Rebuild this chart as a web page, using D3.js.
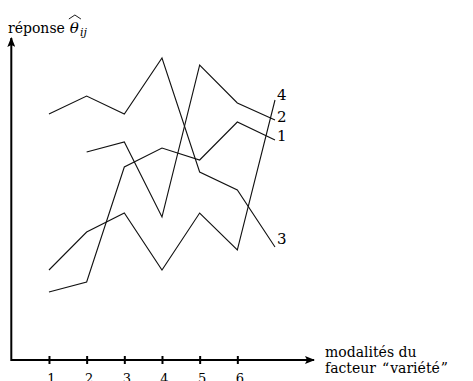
<!DOCTYPE html>
<html>
<head>
<meta charset="utf-8">
<script src="https://cdn.jsdelivr.net/npm/d3@7"></script>
<style>
  body { margin: 0; background: #fff; }
  svg { display: block; }
  text { font-family: "DejaVu Serif", "Liberation Serif", serif; fill: #000; }
</style>
</head>
<body>
<div id="chart"></div>
<script>
// modalités of the factor (x) and the tick labels that are shown
const modalities = [1, 2, 3, 4, 5, 6, 7];
const tickLabels = ['1', '2', '3', '4', '5', '6'];

// response per variety (arbitrary units)
const series1 = [6.8, 7.8, 19.3, 21.2, 20.0, 23.8, 22.0];
const series2 = [null, 20.8, 21.8, 14.3, 29.5, 25.7, 24.0];
const series3 = [24.6, 26.4, 24.6, 30.2, 18.8, 17.0, 11.3];
const series4 = [9.0, 12.8, 14.7, 9.0, 14.7, 11.0, 26.0];
const seriesNames = ['1', '2', '3', '4'];

class InteractionPlot {
    constructor(_config, _data) {
        this.config = {
            parentElement: _config.parentElement,
            containerWidth: _config.containerWidth || 473,
            containerHeight: _config.containerHeight || 381,
        };
        this.data = _data;
        this.initVis();
    }

    initVis() {
        let vis = this;

        vis.svg = d3.select(vis.config.parentElement).append('svg')
            .attr('width', vis.config.containerWidth)
            .attr('height', vis.config.containerHeight);

        // origin of the axes sits at (11, 360)
        vis.xScale = d3.scaleLinear()
            .domain([0, 7])
            .range([11.3, 275]);

        vis.yScale = d3.scaleLinear()
            .domain([0, 32])
            .range([360, 40]);

        vis.renderVis();
    }

    renderVis() {
        let vis = this;
        const x0 = vis.xScale(0), y0 = vis.yScale(0);

        // arrow heads
        const defs = vis.svg.append('defs');
        defs.append('marker')
            .attr('id', 'arrow')
            .attr('viewBox', '0 0 10 8')
            .attr('refX', 9)
            .attr('refY', 4)
            .attr('markerWidth', 10)
            .attr('markerHeight', 8)
            .attr('markerUnits', 'userSpaceOnUse')
            .attr('orient', 'auto')
            .append('path')
            .attr('d', 'M0,0 L10,4 L0,8 L2,4 Z')
            .attr('fill', '#000');

        // x axis
        vis.svg.append('line')
            .attr('x1', x0).attr('y1', y0)
            .attr('x2', 314).attr('y2', y0)
            .attr('stroke', '#000')
            .attr('stroke-width', 2)
            .attr('marker-end', 'url(#arrow)');

        // y axis
        vis.svg.append('line')
            .attr('x1', x0).attr('y1', y0 + 1)
            .attr('x2', x0).attr('y2', 38)
            .attr('stroke', '#000')
            .attr('stroke-width', 2)
            .attr('marker-end', 'url(#arrow)');

        const xAxis = d3.axisBottom(vis.xScale)
            .tickValues(tickLabels.map(Number))
            .tickFormat(d => d)
            .tickSize(4)
            .tickPadding(10);

        const axisG = vis.svg.append('g')
            .attr('transform', `translate(0, ${y0})`)
            .call(xAxis);
        axisG.select('.domain').remove();
        axisG.selectAll('.tick line')
            .attr('y1', -4)
            .attr('stroke-width', 2);
        axisG.selectAll('.tick text')
            .attr('dx', 2)
            .style('font-family', '"DejaVu Serif", serif')
            .style('font-size', '13px');

        // lines
        const line = d3.line()
            .defined(d => d.v !== null)
            .x(d => vis.xScale(d.x))
            .y(d => vis.yScale(d.v));

        const labelDy = {'1': 1, '2': 2, '3': -3, '4': 0};

        vis.data.forEach((s, i) => {
            const pts = modalities.map((m, j) => ({x: m, v: s[j]}));
            vis.svg.append('path')
                .attr('d', line(pts))
                .attr('fill', 'none')
                .attr('stroke', '#111')
                .attr('stroke-width', 1.1);

            const last = pts[pts.length - 1];
            vis.svg.append('text')
                .attr('x', vis.xScale(last.x) + 2)
                .attr('y', vis.yScale(last.v) + labelDy[seriesNames[i]])
                .style('font-size', '15px')
                .text(seriesNames[i]);
        });

        // y title: réponse θ̂ij, hat drawn as a path over the theta
        const yT = vis.svg.append('text')
            .attr('x', 8)
            .attr('y', 33)
            .style('font-size', '14px')
            .text('réponse');
        let tx = 8 + yT.node().getComputedTextLength() + 5;

        const theta = vis.svg.append('text')
            .attr('x', tx)
            .attr('y', 33)
            .style('font-size', '15px')
            .style('font-style', 'italic')
            .text('θ');
        const tw = theta.node().getComputedTextLength();

        vis.svg.append('path')
            .attr('d', `M${tx - 1},${19} L${tx + tw / 2 + 0.5},${15} L${tx + tw + 2},${19}`)
            .attr('fill', 'none')
            .attr('stroke', '#000')
            .attr('stroke-width', 0.9);

        vis.svg.append('text')
            .attr('x', tx + tw + 1)
            .attr('y', 36)
            .style('font-size', '11px')
            .style('font-style', 'italic')
            .text('ij');

        // x title, two lines
        vis.svg.append('text')
            .attr('x', 325)
            .attr('y', 357)
            .style('font-size', '14px')
            .text('modalités du');

        const xTitle2 = vis.svg.append('text')
            .attr('x', 325)
            .attr('y', 373)
            .style('font-size', '14px');
        xTitle2.append('tspan').text('facteur');
        xTitle2.append('tspan').attr('dx', 6).text('“');
        xTitle2.append('tspan').attr('dx', 1).text('variété');
        xTitle2.append('tspan').attr('dx', 1).text('”');
    }
}

new InteractionPlot({parentElement: '#chart'}, [series1, series2, series3, series4]);
</script>
</body>
</html>
